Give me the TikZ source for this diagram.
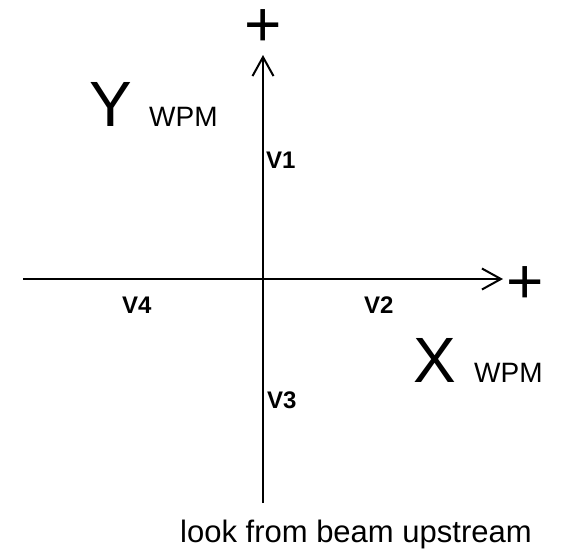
\documentclass[tikz,border=0pt]{standalone}
\usepackage{fontspec}
\setmainfont{Liberation Sans}
\usetikzlibrary{arrows.meta}
\begin{document}
\begin{tikzpicture}[x=1pt,y=-1pt,
  axis/.style={line width=2.4pt,-{Straight Barb[length=19pt,width=21pt,line width=2pt]}},
  lbl/.style={inner sep=0pt,anchor=base west},
  big/.style={lbl,font=\fontsize{64}{70}\selectfont},
  sub/.style={lbl,font=\fontsize{28}{32}\selectfont},
  vlab/.style={lbl,font=\bfseries\fontsize{24}{28}\selectfont},
  plus/.style={inner sep=0pt,anchor=base,font=\fontsize{64}{70}\selectfont}]
\useasboundingbox (0,0) rectangle (562,552);
\coordinate (xs) at (23,279);
\coordinate (xe) at (503,279);
\coordinate (ys) at (263,503);
\coordinate (ye) at (263,55);
\draw[axis] (xs) -- (xe);
\draw[axis] (ys) -- (ye);
\node[plus] (py) at (263,46) {+};
\node[plus] (px) at (525,303) {+};
\node[big] (Y) at (89,126) {Y};
\node[sub] (Yw) at (149,126) {WPM};
\node[big] (X) at (413,382) {X};
\node[sub] (Xw) at (474,382) {WPM};
\node[vlab] (v1) at (266,168) {V1};
\node[vlab] (v2) at (364,313) {V2};
\node[vlab] (v3) at (267,408) {V3};
\node[vlab] (v4) at (122,313) {V4};
\node[lbl,font=\fontsize{31}{36}\selectfont] (cap) at (180,542) {look from beam upstream};
\end{tikzpicture}
\end{document}
